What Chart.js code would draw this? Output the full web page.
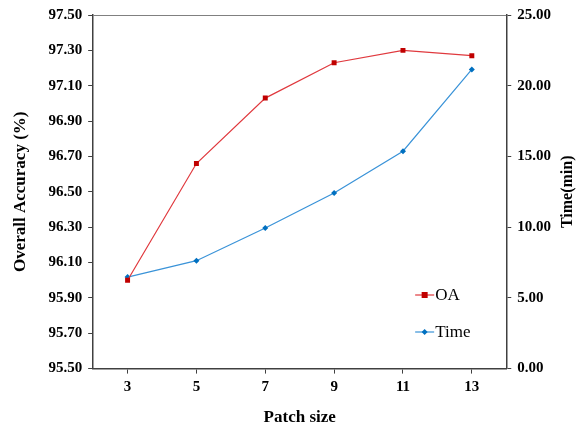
<!DOCTYPE html>
<html>
<head>
<meta charset="utf-8">
<script src="https://cdn.jsdelivr.net/npm/chart.js@4/dist/chart.umd.min.js"></script>
<style>
  html, body { margin: 0; padding: 0; background: #fff; }
  #wrap { width: 586px; height: 428px; }
</style>
</head>
<body>
<div id="wrap"><canvas id="patchChart"></canvas></div>
<script>
// Patch size on the x axis
const patchSizes = ['3', '5', '7', '9', '11', '13'];
// Overall accuracy (%) - left axis
const oaValues = [96.00, 96.66, 97.03, 97.23, 97.30, 97.27];
// Training time (min) - right axis
const timeValues = [6.47, 7.63, 9.94, 12.42, 15.37, 21.15];

const serif = "'Liberation Serif', 'Times New Roman', serif";

// Legend inside the plot (lower right), top frame line, and the right axis title
const extras = {
    id: 'extras',
    afterDraw(chart) {
        const ctx = chart.ctx;
        const area = chart.chartArea;
        ctx.save();
        // top frame line
        ctx.strokeStyle = '#808080';
        ctx.lineWidth = 1;
        ctx.beginPath();
        ctx.moveTo(area.left, area.top + 0.5);
        ctx.lineTo(area.right, area.top + 0.5);
        ctx.stroke();

        // right axis title, reading bottom to top
        ctx.save();
        ctx.translate(568, (area.top + area.bottom) / 2);
        ctx.rotate(-Math.PI / 2);
        ctx.fillStyle = '#000';
        ctx.font = 'bold 16px ' + serif;
        ctx.textAlign = 'center';
        ctx.textBaseline = 'middle';
        ctx.fillText('Time(min)', 0, 0);
        ctx.restore();

        const x0 = area.left + 322;
        let y = area.top + 280;
        chart.data.datasets.forEach(ds => {
            ctx.strokeStyle = ds.borderColor;
            ctx.lineWidth = 1.2;
            ctx.beginPath();
            ctx.moveTo(x0, y);
            ctx.lineTo(x0 + 19, y);
            ctx.stroke();
            ctx.fillStyle = ds.pointBackgroundColor;
            if (ds.pointStyle === 'rect') {
                ctx.fillRect(x0 + 6.5, y - 3, 6, 6);
            } else {
                ctx.beginPath();
                ctx.moveTo(x0 + 9.5, y - 3);
                ctx.lineTo(x0 + 12.5, y);
                ctx.lineTo(x0 + 9.5, y + 3);
                ctx.lineTo(x0 + 6.5, y);
                ctx.closePath();
                ctx.fill();
            }
            ctx.fillStyle = '#000';
            ctx.font = '17px ' + serif;
            ctx.textBaseline = 'middle';
            ctx.fillText(ds.label, x0 + 20, y + 1);
            y += 37;
        });
        ctx.restore();
    }
};

const ctx = document.getElementById('patchChart').getContext('2d');
const patchChart = new Chart(ctx, {
    type: 'line',
    data: {
        labels: patchSizes,
        datasets: [{
            label: 'OA',
            data: oaValues,
            yAxisID: 'y',
            borderColor: '#E0393E',
            borderWidth: 1.2,
            pointStyle: 'rect',
            pointRadius: 3.5,
            pointBackgroundColor: '#C00000',
            pointBorderColor: '#C00000',
            pointBorderWidth: 0,
            tension: 0
        }, {
            label: 'Time',
            data: timeValues,
            yAxisID: 'y1',
            borderColor: '#3A93D8',
            borderWidth: 1.2,
            pointStyle: 'rectRot',
            pointRadius: 3,
            pointBackgroundColor: '#0070C0',
            pointBorderColor: '#0070C0',
            pointBorderWidth: 0,
            tension: 0
        }]
    },
    options: {
        responsive: true,
        maintainAspectRatio: false,
        animation: false,
        layout: { padding: { left: 6, right: 29, top: 4, bottom: 0 } },
        plugins: {
            legend: { display: false },
            tooltip: { enabled: false }
        },
        scales: {
            x: {
                offset: true,
                grid: { display: true, drawOnChartArea: false, tickLength: 5, color: '#404040', offset: false },
                border: { color: '#404040', width: 1.5 },
                ticks: { color: '#000', font: { family: serif, size: 15, weight: 'bold' }, padding: 5 },
                title: { display: true, text: 'Patch size', color: '#000', font: { family: serif, size: 17, weight: 'bold' }, padding: { top: 6, bottom: 0 } }
            },
            y: {
                position: 'left',
                min: 95.5,
                max: 97.5,
                grid: { display: true, drawOnChartArea: false, tickLength: 5, color: '#404040' },
                border: { color: '#404040', width: 1.5 },
                ticks: {
                    stepSize: 0.2,
                    color: '#000',
                    font: { family: serif, size: 15, weight: 'bold' },
                    padding: 6,
                    callback: v => v.toFixed(2)
                },
                title: { display: true, text: 'Overall Accuracy (%)', color: '#000', font: { family: serif, size: 17, weight: 'bold' }, padding: { bottom: 12 } }
            },
            y1: {
                position: 'right',
                min: 0,
                max: 25,
                grid: { display: true, drawOnChartArea: false, tickLength: 5, color: '#404040' },
                border: { color: '#404040', width: 1.5 },
                ticks: {
                    stepSize: 5,
                    color: '#000',
                    font: { family: serif, size: 15, weight: 'bold' },
                    padding: 6,
                    callback: v => v.toFixed(2)
                },
                title: { display: false }
            }
        }
    },
    plugins: [extras]
});
</script>
</body>
</html>
